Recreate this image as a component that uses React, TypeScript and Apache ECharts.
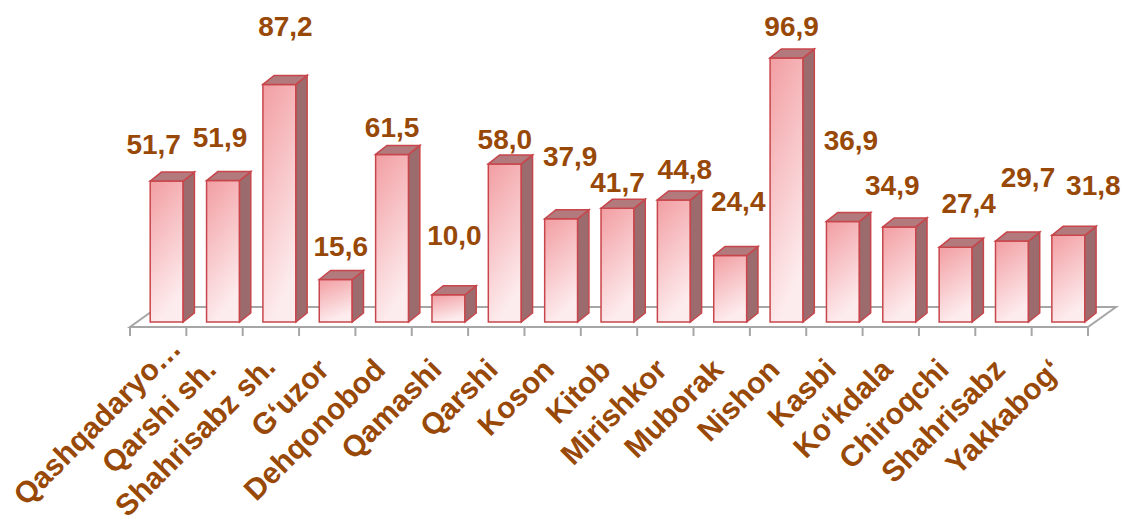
import React, { useEffect, useRef } from "react";
import * as echarts from "echarts";

const categories = [
  "Qashqadaryo…", "Qarshi sh.", "Shahrisabz sh.", "G‘uzor", "Dehqonobod", "Qamashi",
  "Qarshi", "Koson", "Kitob", "Mirishkor", "Muborak", "Nishon", "Kasbi",
  "Ko‘kdala", "Chiroqchi", "Shahrisabz", "Yakkabog‘",
];
const values = [51.7, 51.9, 87.2, 15.6, 61.5, 10.0, 58.0, 37.9, 41.7, 44.8, 24.4, 96.9, 36.9, 34.9, 27.4, 29.7, 31.8];

// label layout nudges (px) relative to the default label spot above each bar
const valueLabelNudgeX = [-13, -3, 6, 5, 0, 6, 0, 9, 0, 11, 8, 5, 8, -7, 13, 16, 25];
const valueLabelNudgeY = [3, -3, -18, 7, 13, -19, 16, -22, 14, 10, -14, 9, -41, -1, -4, -24, -10];
const categoryLabelShift = [30, 0, 4, 0, 0, 0, 0, 0, 0, 0, 0, 0, 0, 0, 0, 0, 0];

const TEXT = "#984807";
const FONT = "'Liberation Sans', Arial, sans-serif";
const BORDER = "#C8464B";
const GRID = "#A6A6A6";

export default function App() {
  const ref = useRef<HTMLDivElement>(null);
  useEffect(() => {
    if (!ref.current) return;
    const chart = echarts.init(ref.current, null, { renderer: "svg" });
    const fmt = (v: number) => v.toFixed(1).replace(".", ",");
    const n = values.length;
    const renderItem = (params: any, api: any) => {
      const i = api.value(0) as number;
      const v = api.value(1) as number;
      const base = api.coord([i, 0]);
      const top = api.coord([i, v]);
      const bw = api.size([1, 0])[0];
      const cs = params.coordSys;
      const cx = base[0];
      const fw = bw * 0.585;
      const fc = cx + bw * 0.151;
      const l = fc - fw / 2;
      const r = fc + fw / 2;
      const b = base[1];
      const t = top[1];
      const ddx = bw * 0.2;
      const ddy = 9;
      const fy = cs.y + cs.height + 5;
      const children: any[] = [];
      if (params.dataIndex === 0) {
        children.push({
          type: "polygon",
          shape: {
            points: [
              [cs.x, fy], [cs.x + cs.width, fy],
              [cs.x + cs.width + 28, fy - 20], [cs.x + 28, fy - 20],
            ],
          },
          style: { fill: "#fff", stroke: GRID, lineWidth: 2 },
        });
      }
      const tickXs = [cx - bw / 2];
      if (i === n - 1) tickXs.push(cx + bw / 2);
      tickXs.forEach((tx) => {
        children.push({
          type: "line",
          shape: { x1: tx, y1: fy, x2: tx, y2: fy + 9 },
          style: { stroke: GRID, lineWidth: 2 },
        });
      });
      children.push({
        type: "rect",
        shape: { x: l, y: t, width: fw, height: b - t },
        style: {
          fill: new echarts.graphic.LinearGradient(0, 0, 0.3, 1, [
            { offset: 0, color: "#F29EA2" },
            { offset: 1, color: "#FDECEE" },
          ]),
          stroke: BORDER,
          lineWidth: 1.5,
        },
      });
      children.push({
        type: "polygon",
        shape: { points: [[r, t], [r + ddx, t - ddy], [r + ddx, b - ddy], [r, b]] },
        style: { fill: "#9C6B6D", stroke: BORDER, lineWidth: 1.5 },
      });
      children.push({
        type: "polygon",
        shape: { points: [[l, t], [l + ddx, t - ddy], [r + ddx, t - ddy], [r, t]] },
        style: { fill: "#B27A7D", stroke: BORDER, lineWidth: 1.5 },
      });
      children.push({
        type: "text",
        x: fc + valueLabelNudgeX[i],
        y: t - 40 + valueLabelNudgeY[i],
        style: {
          text: fmt(v),
          fill: TEXT,
          font: `bold 28px ${FONT}`,
          align: "center",
          verticalAlign: "middle",
        },
      });
      const s = categoryLabelShift[i] * Math.SQRT1_2;
      children.push({
        type: "text",
        x: cx - 4 + s,
        y: b + 42 - s,
        rotation: Math.PI / 4,
        style: {
          text: categories[i],
          fill: TEXT,
          font: `bold 30px ${FONT}`,
          align: "right",
          verticalAlign: "middle",
        },
      });
      return { type: "group", children };
    };
    chart.setOption({
      animation: false,
      grid: { left: 130, right: 35, top: 49.5, bottom: 201 },
      xAxis: {
        type: "category",
        data: categories,
        show: false,
      },
      yAxis: { type: "value", min: 0, max: 100, show: false },
      series: [
        {
          type: "custom",
          renderItem,
          clip: false,
          data: values.map((v, i) => [i, v]),
        },
      ],
    });
    return () => chart.dispose();
  }, []);
  return (
    <div
      ref={ref}
      style={{ position: "fixed", left: 0, top: 0, width: 1123, height: 523, background: "#fff" }}
    />
  );
}
